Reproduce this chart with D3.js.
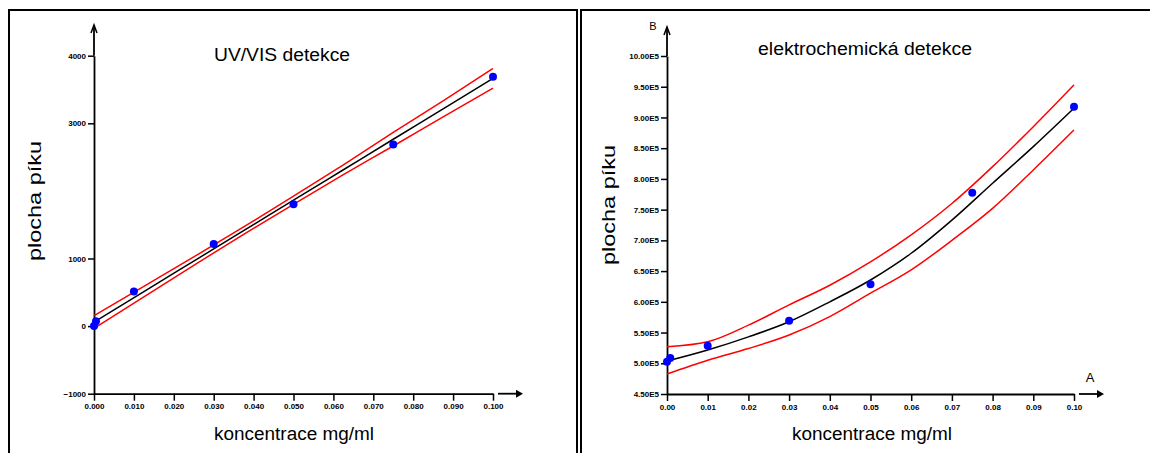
<!DOCTYPE html>
<html>
<head>
<meta charset="utf-8">
<script src="https://cdn.jsdelivr.net/npm/d3@7"></script>
<style>
  html, body { margin: 0; padding: 0; background: #fff; }
  svg { display: block; }
  text { font-family: "Liberation Sans", Arial, sans-serif; }
</style>
</head>
<body>
<svg id="chart" width="1150" height="453"></svg>
<script>
// ---- UV/VIS calibration ----
const uvConc = [0, 0.0005, 0.01, 0.03, 0.05, 0.075, 0.1];
const uvArea = [0, 70, 510, 1216, 1804, 2687, 3687];
const uvLineConc = [0, 0.0125, 0.025, 0.0375, 0.05, 0.0625, 0.075, 0.0875, 0.1];
const uvFit   = [60, 510, 961, 1412, 1862, 2313, 2764, 3214, 3665];
const uvUpper = [155, 588, 1023, 1467, 1922, 2385, 2864, 3332, 3810];
const uvLower = [-35, 432, 899, 1357, 1802, 2241, 2664, 3096, 3520];
const uvXTicks = [0, 0.01, 0.02, 0.03, 0.04, 0.05, 0.06, 0.07, 0.08, 0.09, 0.1];
const uvYTicks = [-1000, 0, 1000, 3000, 4000];

// ---- electrochemical calibration ----
const ecConc = [0, 0.0008, 0.01, 0.03, 0.05, 0.075, 0.1];
const ecArea = [502600, 508600, 528600, 569300, 628500, 777600, 917500];
const ecLineConc = [0, 0.01, 0.02, 0.03, 0.04, 0.05, 0.06, 0.07, 0.08, 0.09, 0.1];
const ecFit   = [503600, 521600, 543000, 567600, 600000, 635500, 679000, 733000, 793000, 852500, 915000];
const ecUpper = [527000, 535000, 562000, 595000, 627000, 665000, 709000, 760000, 820000, 885000, 953000];
const ecLower = [482500, 505000, 524000, 546000, 576000, 614000, 652000, 700000, 752000, 814500, 879600];
const ecXTicks = [0, 0.01, 0.02, 0.03, 0.04, 0.05, 0.06, 0.07, 0.08, 0.09, 0.1];
const ecYTicks = [450000, 500000, 550000, 600000, 650000, 700000, 750000, 800000, 850000, 900000, 950000, 1000000];

const svg = d3.select("#chart");

function panel(cfg) {
  const g = svg.append("g");
  const x = d3.scaleLinear().domain([0, 0.1]).range(cfg.xRange);
  const y = d3.scaleLinear().domain(cfg.yDomain).range(cfg.yRange);
  const x0 = cfg.xRange[0], yBase = cfg.yRange[0];

  // frame
  g.append("rect").attr("x", cfg.frame[0]).attr("y", cfg.frame[1])
    .attr("width", cfg.frame[2]).attr("height", cfg.frame[3])
    .attr("fill", "none").attr("stroke", "#000").attr("stroke-width", 2);

  // x axis
  const xAxis = d3.axisBottom(x).tickValues(cfg.xTicks).tickSize(7).tickPadding(3)
    .tickFormat(cfg.xFormat).tickSizeOuter(0);
  const gx = g.append("g").attr("transform", `translate(0,${yBase})`).call(xAxis);
  // y axis
  const yAxis = d3.axisLeft(y).tickValues(cfg.yTicks).tickSize(6).tickPadding(2)
    .tickFormat(cfg.yFormat).tickSizeOuter(0);
  const gy = g.append("g").attr("transform", `translate(${x0},0)`).call(yAxis);
  [gx, gy].forEach(a => {
    a.select(".domain").attr("stroke", "#000").attr("stroke-width", 1.8);
    a.selectAll(".tick line").attr("stroke", "#000").attr("stroke-width", 1.5);
    a.selectAll(".tick text").attr("fill", "#000").attr("font-size", 8)
      .attr("font-weight", "bold").attr("font-family", "'Liberation Sans', Arial, sans-serif");
  });

  // y axis extension with arrow head
  const yTop = y(cfg.yDomain[1]);
  g.append("line").attr("x1", x0).attr("x2", x0).attr("y1", yTop).attr("y2", cfg.arrowTop)
    .attr("stroke", "#000").attr("stroke-width", 1.8);
  g.append("path")
    .attr("d", `M${x0 - 3},${cfg.arrowTop + 8} L${x0},${cfg.arrowTop} L${x0 + 3},${cfg.arrowTop + 8}`)
    .attr("fill", "none").attr("stroke", "#000").attr("stroke-width", 1.5);

  // x axis arrow after a short gap
  const xEnd = cfg.xRange[1];
  g.append("line").attr("x1", xEnd + 5).attr("x2", xEnd + 28).attr("y1", yBase).attr("y2", yBase)
    .attr("stroke", "#000").attr("stroke-width", 1.8);
  g.append("path")
    .attr("d", `M${xEnd + 23},${yBase - 4} L${xEnd + 30},${yBase} L${xEnd + 23},${yBase + 4} Z`)
    .attr("fill", "#000");

  // confidence band and fitted curve
  const line = d3.line().x(d => x(d[0])).y(d => y(d[1])).curve(d3.curveMonotoneX);
  const series = (vals, col) => g.append("path")
    .datum(cfg.lineConc.map((c, i) => [c, vals[i]]))
    .attr("d", line).attr("fill", "none").attr("stroke", col).attr("stroke-width", 1.5);
  series(cfg.upper, "#ff0000");
  series(cfg.lower, "#ff0000");
  series(cfg.fit, "#000000");

  // measured points
  g.selectAll("circle.pt").data(cfg.conc.map((c, i) => [c, cfg.area[i]]))
    .join("circle").attr("class", "pt")
    .attr("cx", d => x(d[0])).attr("cy", d => y(d[1])).attr("r", 4)
    .attr("fill", "#0000ff");

  // titles
  g.append("text").attr("x", cfg.title.x).attr("y", cfg.title.y).attr("text-anchor", "middle")
    .attr("font-size", 18).attr("textLength", cfg.title.len).attr("lengthAdjust", "spacingAndGlyphs")
    .attr("fill", "#000").text(cfg.title.text);
  g.append("text").attr("x", cfg.xLabel.x).attr("y", cfg.xLabel.y).attr("text-anchor", "middle")
    .attr("font-size", 18).attr("textLength", 160).attr("lengthAdjust", "spacingAndGlyphs")
    .attr("fill", "#000").text("koncentrace mg/ml");
  g.append("text")
    .attr("transform", `translate(${cfg.yLabel.x},${cfg.yLabel.y}) rotate(-90)`)
    .attr("text-anchor", "middle").attr("font-size", 18)
    .attr("textLength", 120).attr("lengthAdjust", "spacingAndGlyphs")
    .attr("fill", "#000").text("plocha píku");
  return g;
}

panel({
  frame: [9, 10, 568, 460],
  xRange: [94, 493], yDomain: [-1000, 4000], yRange: [393.7, 55.7],
  xTicks: uvXTicks, yTicks: uvYTicks,
  xFormat: d3.format(".3f"), yFormat: d3.format("d"),
  arrowTop: 25,
  conc: uvConc, area: uvArea,
  lineConc: uvLineConc, fit: uvFit, upper: uvUpper, lower: uvLower,
  title: { text: "UV/VIS detekce", x: 282, y: 61, len: 136 },
  xLabel: { x: 294, y: 440 },
  yLabel: { x: 41, y: 201 }
});

const ec = panel({
  frame: [581, 10, 580, 460],
  xRange: [667, 1074], yDomain: [450000, 1000000], yRange: [394, 56],
  xTicks: ecXTicks, yTicks: ecYTicks,
  xFormat: d3.format(".2f"), yFormat: v => (v / 100000).toFixed(2) + "E5",
  arrowTop: 27,
  conc: ecConc, area: ecArea,
  lineConc: ecLineConc, fit: ecFit, upper: ecUpper, lower: ecLower,
  title: { text: "elektrochemická detekce", x: 865, y: 55, len: 214 },
  xLabel: { x: 872, y: 440 },
  yLabel: { x: 615, y: 205 }
});

// axis letters
ec.append("text").attr("x", 653).attr("y", 30).attr("text-anchor", "middle")
  .attr("font-size", 11).attr("fill", "#000").text("B");
ec.append("text").attr("x", 1090).attr("y", 382).attr("text-anchor", "middle")
  .attr("font-size", 13).attr("fill", "#000").text("A");
</script>
</body>
</html>
